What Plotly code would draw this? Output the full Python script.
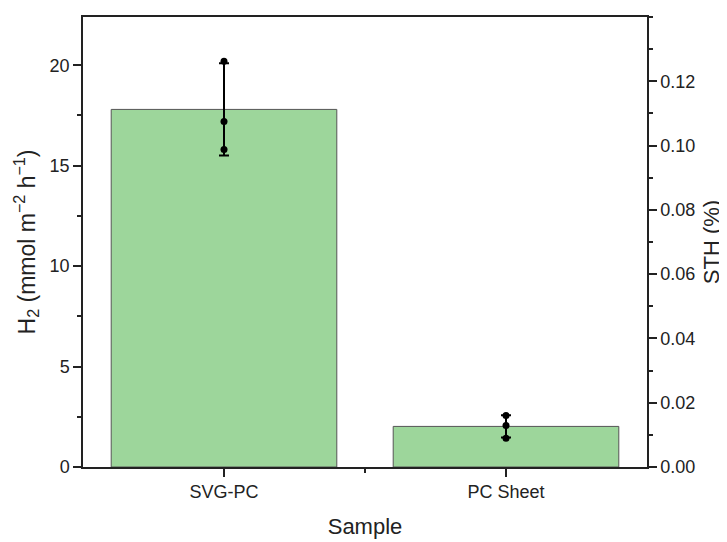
import plotly.graph_objects as go

samples = ["SVG-PC", "PC Sheet"]
h2_mean = [17.8, 2.02]
h2_err = [2.3, 0.55]
svg_points = [20.2, 17.2, 15.8]
pc_points = [2.56, 2.07, 1.43]
x_pos = [0, 1]

font_family = "Liberation Sans, Arial, sans-serif"

fig = go.Figure()
fig.add_trace(go.Bar(
    x=x_pos, y=h2_mean, width=0.8,
    marker=dict(color="#9dd69b", line=dict(color="#555555", width=1)),
    error_y=dict(type="data", array=h2_err, visible=True, color="black",
                 thickness=2, width=5),
    showlegend=False,
))
fig.add_trace(go.Scatter(
    x=[x_pos[0]] * len(svg_points) + [x_pos[1]] * len(pc_points),
    y=svg_points + pc_points,
    mode="markers", marker=dict(color="black", size=7),
    showlegend=False,
))
fig.add_trace(go.Scatter(x=[], y=[], yaxis="y2", showlegend=False))

tick_style = dict(ticks="outside", ticklen=8, tickwidth=1.5, tickcolor="#222",
                  showline=True, linecolor="#222", linewidth=1.5,
                  showgrid=False, zeroline=False)
minor_style = dict(ticks="outside", ticklen=4, tickwidth=1.5, tickcolor="#222")

fig.update_layout(
    width=719, height=534,
    margin=dict(l=75, r=79, t=7, b=72),
    plot_bgcolor="white", paper_bgcolor="white",
    font=dict(family=font_family, size=18, color="#222"),
    xaxis=dict(
        range=[-0.5, 1.5], tickvals=x_pos, ticktext=samples, mirror=True,
        minor=dict(tickvals=[0.5], **minor_style),
        title=dict(text="Sample", font=dict(size=22), standoff=17),
        tickfont=dict(size=18),
        **tick_style,
    ),
    yaxis=dict(
        range=[0, 22.4], tickvals=[0, 5, 10, 15, 20],
        minor=dict(dtick=2.5, **minor_style),
        title=dict(text="H<sub>2</sub> (mmol m<sup>−2</sup> h<sup>−1</sup>)", font=dict(size=23), standoff=8),
        tickfont=dict(size=18),
        **tick_style,
    ),
    yaxis2=dict(
        overlaying="y", side="right", range=[0, 0.14],
        tickvals=[0, 0.02, 0.04, 0.06, 0.08, 0.10, 0.12], tickformat=".2f",
        minor=dict(dtick=0.01, **minor_style),
        title=dict(text="STH (%)", font=dict(size=22), standoff=9),
        tickfont=dict(size=18),
        **tick_style,
    ),
)

fig.write_html("out.html")
